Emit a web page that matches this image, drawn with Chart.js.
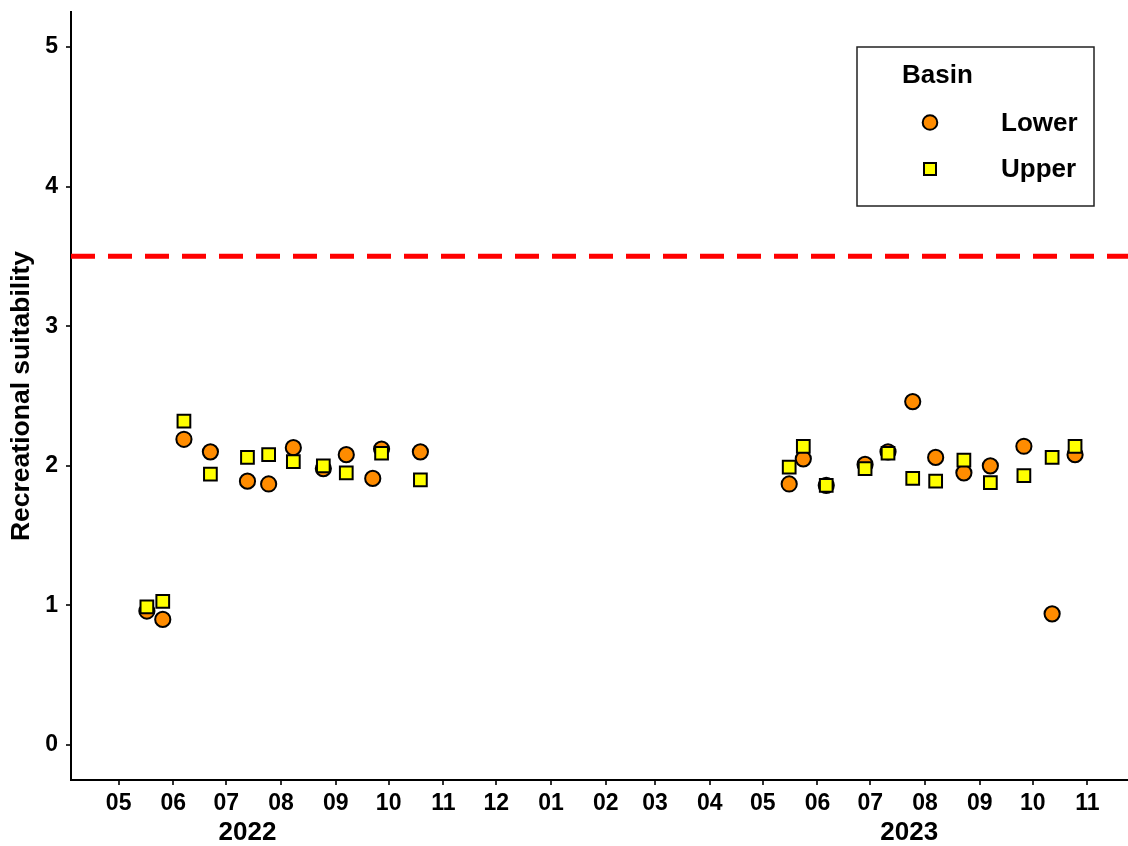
<!DOCTYPE html>
<html>
<head>
<meta charset="utf-8">
<script src="https://cdn.jsdelivr.net/npm/chart.js"></script>
<style>
  html, body { margin: 0; padding: 0; background: #fff; }
  #wrap { width: 1128px; height: 846px; }
</style>
</head>
<body>
<div id="wrap"><canvas id="suitChart" width="1128" height="846"></canvas></div>
<script>
// ---- data ----
var lowerDates = ['2022-05-17','2022-05-26','2022-06-07','2022-06-22','2022-07-13','2022-07-25',
  '2022-08-08','2022-08-25','2022-09-07','2022-09-22','2022-09-27','2022-10-19',
  '2023-05-16','2023-05-24','2023-06-06','2023-06-28','2023-07-11','2023-07-25',
  '2023-08-07','2023-08-23','2023-09-07','2023-09-26','2023-10-12','2023-10-25'];
var lowerValues = [0.96, 0.90, 2.19, 2.10, 1.89, 1.87, 2.13, 1.98, 2.08, 1.91, 2.12, 2.10,
  1.87, 2.05, 1.86, 2.01, 2.10, 2.46, 2.06, 1.95, 2.00, 2.14, 0.94, 2.08];

var upperDates = ['2022-05-17','2022-05-26','2022-06-07','2022-06-22','2022-07-13','2022-07-25',
  '2022-08-08','2022-08-25','2022-09-07','2022-09-27','2022-10-19',
  '2023-05-16','2023-05-24','2023-06-06','2023-06-28','2023-07-11','2023-07-25',
  '2023-08-07','2023-08-23','2023-09-07','2023-09-26','2023-10-12','2023-10-25'];
var upperValues = [0.99, 1.03, 2.32, 1.94, 2.06, 2.08, 2.03, 2.00, 1.95, 2.09, 1.90,
  1.99, 2.14, 1.86, 1.98, 2.09, 1.91, 1.89, 2.04, 1.88, 1.93, 2.06, 2.14];

var tickDates = ['2022-05-01','2022-06-01','2022-07-01','2022-08-01','2022-09-01','2022-10-01',
  '2022-11-01','2022-12-01','2023-01-01','2023-02-01','2023-03-01','2023-04-01',
  '2023-05-01','2023-06-01','2023-07-01','2023-08-01','2023-09-01','2023-10-01','2023-11-01'];
var tickLabels = ['05','06','07','08','09','10','11','12','01','02','03','04',
  '05','06','07','08','09','10','11'];
var yTicks = [0, 1, 2, 3, 4, 5];

var yearLabels = ['2022', '2023'];
var yearDates = ['2022-07-13', '2023-07-23'];

var threshold = 3.5;
var xRange = ['2022-04-04', '2023-11-24'];

// days since the first tick
var origin = Date.parse(tickDates[0]);
function dayOf(s) { return (Date.parse(s) - origin) / 86400000; }

function toPoints(dates, values) {
  return dates.map(function (d, i) { return { x: dayOf(d), y: values[i] }; });
}

var FONT = "'Liberation Sans', Arial, sans-serif";

var yearPlugin = {
  id: 'yearLabels',
  afterDraw: function (chart) {
    var ctx = chart.ctx, xs = chart.scales.x;
    ctx.save();
    ctx.font = 'bold 26px ' + FONT;
    ctx.fillStyle = '#000';
    ctx.textAlign = 'center';
    ctx.textBaseline = 'middle';
    yearLabels.forEach(function (lab, i) {
      ctx.fillText(lab, xs.getPixelForValue(dayOf(yearDates[i])), 833);
    });
    ctx.restore();
  }
};

var legendPlugin = {
  id: 'basinLegend',
  afterDraw: function (chart) {
    var ctx = chart.ctx;
    ctx.save();
    ctx.fillStyle = '#fff';
    ctx.fillRect(857, 47, 237, 159);
    ctx.strokeStyle = '#222';
    ctx.lineWidth = 1.5;
    ctx.strokeRect(857, 47, 237, 159);

    ctx.fillStyle = '#000';
    ctx.textBaseline = 'middle';
    ctx.textAlign = 'left';
    ctx.font = 'bold 26px ' + FONT;
    ctx.fillText('Basin', 902, 76);
    ctx.fillText('Lower', 1001, 124);
    ctx.fillText('Upper', 1001, 170);

    ctx.lineWidth = 2;
    ctx.strokeStyle = '#000';
    ctx.beginPath();
    ctx.arc(930, 122.5, 7.3, 0, Math.PI * 2);
    ctx.fillStyle = '#FF8C00';
    ctx.fill();
    ctx.stroke();

    ctx.fillStyle = '#FFFF00';
    ctx.fillRect(924, 163, 12, 12);
    ctx.strokeRect(924, 163, 12, 12);
    ctx.restore();
  }
};

var ctx = document.getElementById('suitChart').getContext('2d');
new Chart(ctx, {
  type: 'scatter',
  data: {
    datasets: [
      {
        label: 'Upper',
        data: toPoints(upperDates, upperValues),
        pointStyle: 'rect',
        pointRadius: 9,
        backgroundColor: '#FFFF00',
        borderColor: '#000',
        borderWidth: 2
      },
      {
        label: 'Lower',
        data: toPoints(lowerDates, lowerValues),
        pointStyle: 'circle',
        pointRadius: 7.6,
        backgroundColor: '#FF8C00',
        borderColor: '#000',
        borderWidth: 2
      },
      {
        type: 'line',
        label: 'threshold',
        data: [{ x: dayOf(xRange[0]), y: threshold }, { x: dayOf(xRange[1]), y: threshold }],
        borderColor: '#FF0000',
        borderWidth: 5,
        borderDash: [24, 13],
        pointRadius: 0,
        fill: false
      }
    ]
  },
  options: {
    responsive: false,
    devicePixelRatio: 1,
    animation: false,
    events: [],
    layout: { autoPadding: false, padding: { top: 12, right: 0, bottom: 0, left: 0 } },
    plugins: {
      legend: { display: false },
      tooltip: { enabled: false }
    },
    scales: {
      x: {
        type: 'linear',
        min: dayOf(xRange[0]),
        max: dayOf(xRange[1]),
        afterBuildTicks: function (scale) {
          scale.ticks = tickDates.map(function (d) { return { value: dayOf(d) }; });
        },
        afterFit: function (scale) {
          scale.height = 66;
          scale.paddingLeft = 0;
          scale.paddingRight = 0;
        },
        ticks: {
          autoSkip: false,
          maxRotation: 0,
          padding: 5,
          color: '#000',
          font: { family: FONT, size: 23, weight: 'bold' },
          callback: function (v, i) { return tickLabels[i]; }
        },
        grid: { drawOnChartArea: false, drawTicks: true, tickLength: 5, color: '#333', lineWidth: 2 },
        border: { display: true, color: '#000', width: 2 }
      },
      y: {
        min: -0.25,
        max: 5.25,
        afterBuildTicks: function (scale) {
          scale.ticks = yTicks.map(function (v) { return { value: v }; });
        },
        afterFit: function (scale) {
          scale.width = 71;
          scale.paddingTop = 0;
          scale.paddingBottom = 0;
        },
        ticks: {
          padding: 8,
          color: '#000',
          font: { family: FONT, size: 23, weight: 'bold' },
          callback: function (v) { return String(v); }
        },
        grid: { drawOnChartArea: false, drawTicks: true, tickLength: 5, color: '#333', lineWidth: 2 },
        border: { display: true, color: '#000', width: 2 },
        title: {
          display: true,
          text: 'Recreational suitability',
          color: '#000',
          padding: { top: 6, bottom: 0 },
          font: { family: FONT, size: 26.5, weight: 'bold' }
        }
      }
    }
  },
  plugins: [yearPlugin, legendPlugin]
});
</script>
</body>
</html>
